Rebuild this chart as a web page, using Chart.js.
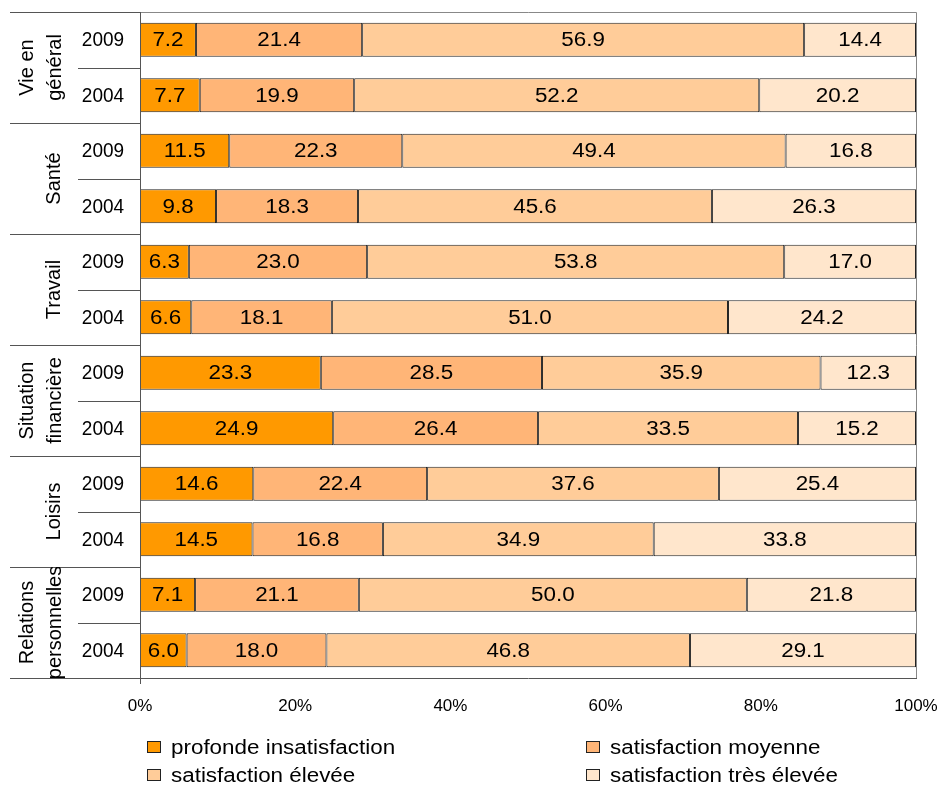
<!DOCTYPE html>
<html>
<head>
<meta charset="utf-8">
<script src="https://cdn.jsdelivr.net/npm/chart.js@4"></script>
<style>
  html, body { margin:0; padding:0; background:#fff; }
  #wrap { width:942px; height:785px; position:relative; }
</style>
</head>
<body>
<div id="wrap"><canvas id="graf"></canvas></div>
<script>
// domaines et années (une barre par ligne)
const domaines = [['Vie en', 'général'], ['Santé'], ['Travail'], ['Situation', 'financière'], ['Loisirs'], ['Relations', 'personnelles']];
const annees = ['2009', '2004'];
const series = ['profonde insatisfaction', 'satisfaction moyenne', 'satisfaction élevée', 'satisfaction très élevée'];
const couleurs = ['#ff9900', '#ffb577', '#ffcc99', '#ffe6cc'];

// valeurs (%) par ligne, dans l'ordre du graphique
const profonde  = [7.2, 7.7, 11.5, 9.8, 6.3, 6.6, 23.3, 24.9, 14.6, 14.5, 7.1, 6.0];
const moyenne   = [21.4, 19.9, 22.3, 18.3, 23.0, 18.1, 28.5, 26.4, 22.4, 16.8, 21.1, 18.0];
const elevee    = [56.9, 52.2, 49.4, 45.6, 53.8, 51.0, 35.9, 33.5, 37.6, 34.9, 50.0, 46.8];
const tresElev  = [14.4, 20.2, 16.8, 26.3, 17.0, 24.2, 12.3, 15.2, 25.4, 33.8, 21.8, 29.1];
const xTicks = [0, 20, 40, 60, 80, 100];

const brut = [profonde, moyenne, elevee, tresElev];
const lignes = [];
domaines.forEach((d, i) => annees.forEach(a => lignes.push(i + '-' + a)));
const totaux = lignes.map((_, i) => brut.reduce((s, arr) => s + arr[i], 0));

const FONT = '"Liberation Sans", Arial, sans-serif';

// texte légèrement étiré en largeur, comme l'original
function texte (ctx, t, x, y, sx) {
  ctx.save();
  ctx.translate(x, y);
  ctx.scale(sx, 1);
  ctx.fillText(t, 0, 0);
  ctx.restore();
}

// étiquettes, séparateurs, cadre et légende
const decor = {
  id: 'decor',
  afterDatasetsDraw (chart) {
    const { ctx } = chart;
    ctx.save();
    // valeurs dans les barres
    ctx.fillStyle = '#000';
    ctx.font = '20px ' + FONT;
    ctx.textAlign = 'center';
    ctx.textBaseline = 'middle';
    chart.data.datasets.forEach((ds, di) => {
      chart.getDatasetMeta(di).data.forEach((bar, i) => {
        const cx = (bar.x + bar.base) / 2;
        texte(ctx, brut[di][i].toFixed(1), cx, bar.y + 1, 1.12);
      });
    });
    ctx.restore();
  },
  afterDraw (chart) {
    const { ctx, chartArea: ca, scales: { y } } = chart;
    const pas = y.getPixelForValue(1) - y.getPixelForValue(0);
    ctx.save();
    // cadre haut / droite
    ctx.strokeStyle = '#888';
    ctx.lineWidth = 1;
    ctx.beginPath();
    ctx.moveTo(ca.left, Math.round(ca.top) + 0.5);
    ctx.lineTo(Math.round(ca.right) + 0.5, Math.round(ca.top) + 0.5);
    ctx.lineTo(Math.round(ca.right) + 0.5, ca.bottom);
    ctx.stroke();
    // axe gauche
    ctx.strokeStyle = '#555';
    ctx.beginPath();
    ctx.moveTo(Math.round(ca.left) + 0.5, ca.top);
    ctx.lineTo(Math.round(ca.left) + 0.5, ca.bottom + 6);
    ctx.stroke();
    // séparateurs de groupes et d'années
    domaines.forEach((d, gi) => {
      const yTop = Math.round(y.getPixelForValue(gi * 2) - pas / 2) + 0.5;
      const yMid = Math.round(y.getPixelForValue(gi * 2) + pas / 2) + 0.5;
      ctx.beginPath();
      ctx.moveTo(10, yTop); ctx.lineTo(ca.left, yTop);
      ctx.moveTo(78, yMid); ctx.lineTo(ca.left, yMid);
      ctx.stroke();
    });
    const yBas = Math.round(ca.bottom) + 0.5;
    ctx.beginPath(); ctx.moveTo(10, yBas); ctx.lineTo(ca.left, yBas); ctx.stroke();

    // années
    ctx.fillStyle = '#000';
    ctx.font = '20px ' + FONT;
    ctx.textAlign = 'center';
    ctx.textBaseline = 'middle';
    lignes.forEach((l, i) => texte(ctx, annees[i % 2], 103, y.getPixelForValue(i) + 1, 0.95));

    // domaines (vertical)
    domaines.forEach((d, gi) => {
      const yTop = y.getPixelForValue(gi * 2) - pas / 2;
      const cy = yTop + pas;
      ctx.save();
      ctx.beginPath();
      ctx.rect(0, yTop, ca.left, pas * 2);
      ctx.clip();
      ctx.translate(0, cy);
      ctx.rotate(-Math.PI / 2);
      const xs = d.length === 2 ? [27, 55] : [54];
      d.forEach((t, k) => ctx.fillText(t, 0, xs[k]));
      ctx.restore();
    });

    // légende sur deux colonnes
    const pos = [[147, 747], [586, 747], [147, 775], [586, 775]];
    ctx.font = '20px ' + FONT;
    ctx.textAlign = 'left';
    chart.data.datasets.forEach((ds, i) => {
      const [lx, ly] = pos[i];
      ctx.fillStyle = ds.backgroundColor;
      ctx.fillRect(lx, ly - 6, 14, 12);
      ctx.strokeStyle = '#222';
      ctx.strokeRect(lx + 0.5, ly - 5.5, 13, 11);
      ctx.fillStyle = '#000';
      texte(ctx, ds.label, lx + 24, ly + 1, 1.12);
    });
    ctx.restore();
  }
};

new Chart(document.getElementById('graf'), {
  type: 'bar',
  data: {
    labels: lignes,
    datasets: series.map((s, k) => ({
      label: s,
      data: brut[k].map((v, i) => v / totaux[i] * 100),
      backgroundColor: couleurs[k],
      borderColor: '#222',
      borderWidth: 1,
      borderSkipped: false,
      barPercentage: 0.61,
      categoryPercentage: 1
    }))
  },
  options: {
    indexAxis: 'y',
    responsive: true,
    maintainAspectRatio: false,
    animation: false,
    layout: { padding: { left: 140, right: 26, top: 12, bottom: 67 } },
    plugins: { legend: { display: false }, tooltip: { enabled: false } },
    scales: {
      x: {
        stacked: true, min: 0, max: 100,
        afterBuildTicks: s => { s.ticks = xTicks.map(v => ({ value: v })); },
        afterFit: s => { s.height = 40; s.paddingLeft = 0; s.paddingRight = 0; },
        grid: { display: false, drawTicks: true, tickLength: 6 },
        border: { color: '#555' },
        ticks: { color: '#000', padding: 12, maxRotation: 0, font: { family: FONT, size: 17 }, callback: v => v + '%' }
      },
      y: {
        stacked: true,
        display: false
      }
    }
  },
  plugins: [decor]
});
</script>
</body>
</html>
